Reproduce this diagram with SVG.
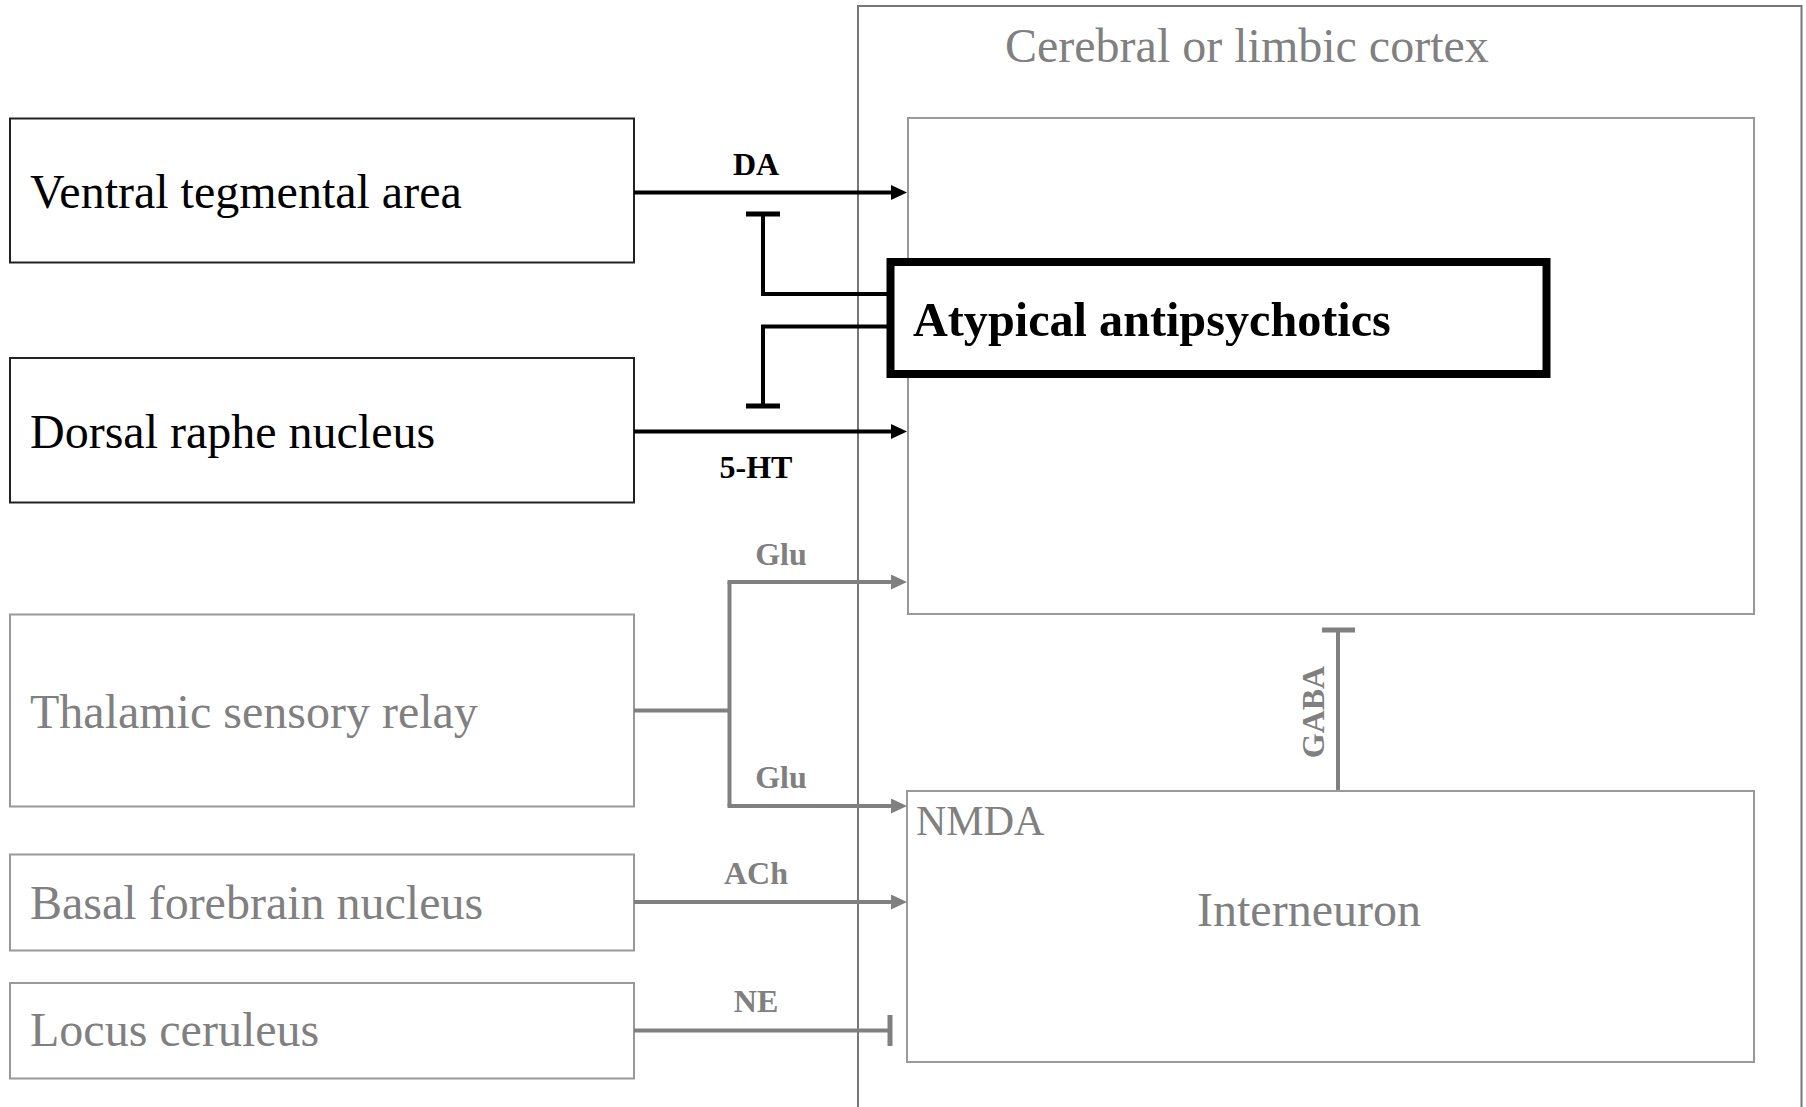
<svg xmlns="http://www.w3.org/2000/svg" width="1806" height="1107" viewBox="0 0 1806 1107">
  <style>
    text { font-family: "Liberation Serif", "Times New Roman", serif; }
    .node-dark { fill: #ffffff; stroke: #222222; stroke-width: 2; }
    .node-gray { fill: #ffffff; stroke: #999999; stroke-width: 2; }
    .txt-dark { font-size: 48px; fill: #000000; }
    .txt-gray { font-size: 48px; fill: #808080; }
    .lbl-dark { font-size: 32px; font-weight: bold; fill: #000000; text-anchor: middle; }
    .lbl-gray { font-size: 32px; font-weight: bold; fill: #808080; text-anchor: middle; }
    .wire-dark { fill: none; stroke: #000000; stroke-width: 4; }
    .wire-gray { fill: none; stroke: #808080; stroke-width: 4; }
    .bar-dark { fill: none; stroke: #000000; stroke-width: 5; }
    .bar-gray { fill: none; stroke: #808080; stroke-width: 5; }
  </style>
  <defs>
    <marker id="arrow-dark" markerUnits="userSpaceOnUse" markerWidth="16" markerHeight="15" refX="0" refY="7.5" orient="auto">
      <path d="M0,0 L16,7.5 L0,15 Z" fill="#000000"/>
    </marker>
    <marker id="arrow-gray" markerUnits="userSpaceOnUse" markerWidth="16" markerHeight="15" refX="0" refY="7.5" orient="auto">
      <path d="M0,0 L16,7.5 L0,15 Z" fill="#808080"/>
    </marker>
  </defs>

  <rect x="0" y="0" width="1806" height="1107" fill="#ffffff"/>

  <!-- cortex enclosure -->
  <g id="cortex">
    <rect x="858" y="6" width="943.5" height="1120" fill="none" stroke="#777777" stroke-width="2"/>
    <text x="1005" y="62" class="txt-gray">Cerebral or limbic cortex</text>
  </g>

  <!-- pyramidal neuron compartment -->
  <g id="pyramidal">
    <rect x="908" y="118" width="846" height="496" class="node-gray"/>
  </g>

  <g id="interneuron">
    <rect x="907" y="791" width="847" height="271" class="node-gray"/>
    <text x="916" y="835" class="txt-gray" style="font-size:42px">NMDA</text>
    <text x="1309" y="926" class="txt-gray" text-anchor="middle">Interneuron</text>
  </g>

  <g id="atypical">
    <rect x="890.5" y="262" width="656" height="112" fill="#ffffff" stroke="#000000" stroke-width="8"/>
    <text x="913" y="336" font-size="48.2" font-weight="bold" fill="#000000">Atypical antipsychotics</text>
  </g>

  <g id="vta">
    <rect x="10" y="118.5" width="624" height="144" class="node-dark"/>
    <text x="30" y="208" class="txt-dark">Ventral tegmental area</text>
  </g>

  <g id="drn">
    <rect x="10" y="358" width="624" height="144.5" class="node-dark"/>
    <text x="30" y="448" class="txt-dark">Dorsal raphe nucleus</text>
  </g>

  <g id="thalamus">
    <rect x="10" y="614.5" width="624" height="192" class="node-gray"/>
    <text x="30" y="728" class="txt-gray">Thalamic sensory relay</text>
  </g>

  <g id="basal-forebrain">
    <rect x="10" y="854.5" width="624" height="96" class="node-gray"/>
    <text x="30" y="919" class="txt-gray">Basal forebrain nucleus</text>
  </g>

  <g id="locus-ceruleus">
    <rect x="10" y="983" width="624" height="95.5" class="node-gray"/>
    <text x="30" y="1046" class="txt-gray">Locus ceruleus</text>
  </g>

  <!-- projections and modulation -->
  <g id="connectors">
    <!-- DA -->
    <line x1="634" y1="192.5" x2="891" y2="192.5" class="wire-dark" marker-end="url(#arrow-dark)"/>
    <text x="756" y="175" class="lbl-dark">DA</text>
    <!-- 5-HT -->
    <line x1="634" y1="431.5" x2="891" y2="431.5" class="wire-dark" marker-end="url(#arrow-dark)"/>
    <text x="756" y="478" class="lbl-dark">5-HT</text>

    <!-- drug blockade of DA and 5-HT -->
    <path d="M887,294 H763 V214" class="wire-dark"/>
    <line x1="746" y1="214" x2="780" y2="214" class="bar-dark"/>
    <path d="M887,326.5 H763 V406" class="wire-dark"/>
    <line x1="746" y1="406" x2="780" y2="406" class="bar-dark"/>

    <!-- Glu from thalamus -->
    <path d="M634,710.5 H729.5" class="wire-gray"/>
    <path d="M729.5,582 V806" class="wire-gray"/>
    <line x1="727.5" y1="582" x2="891" y2="582" class="wire-gray" marker-end="url(#arrow-gray)"/>
    <line x1="727.5" y1="806" x2="891" y2="806" class="wire-gray" marker-end="url(#arrow-gray)"/>
    <text x="781" y="565" class="lbl-gray">Glu</text>
    <text x="781" y="788" class="lbl-gray">Glu</text>

    <!-- ACh -->
    <line x1="634" y1="902" x2="891" y2="902" class="wire-gray" marker-end="url(#arrow-gray)"/>
    <text x="756" y="884" class="lbl-gray">ACh</text>

    <!-- NE -->
    <line x1="634" y1="1030.5" x2="890" y2="1030.5" class="wire-gray"/>
    <line x1="890" y1="1015" x2="890" y2="1046" class="bar-gray"/>
    <text x="756" y="1012" class="lbl-gray">NE</text>

    <!-- GABA from interneuron -->
    <line x1="1338" y1="790" x2="1338" y2="630" class="wire-gray"/>
    <line x1="1322" y1="630" x2="1355" y2="630" class="bar-gray"/>
    <text x="1324" y="712" class="lbl-gray" transform="rotate(-90 1324 712)">GABA</text>
  </g>
</svg>
